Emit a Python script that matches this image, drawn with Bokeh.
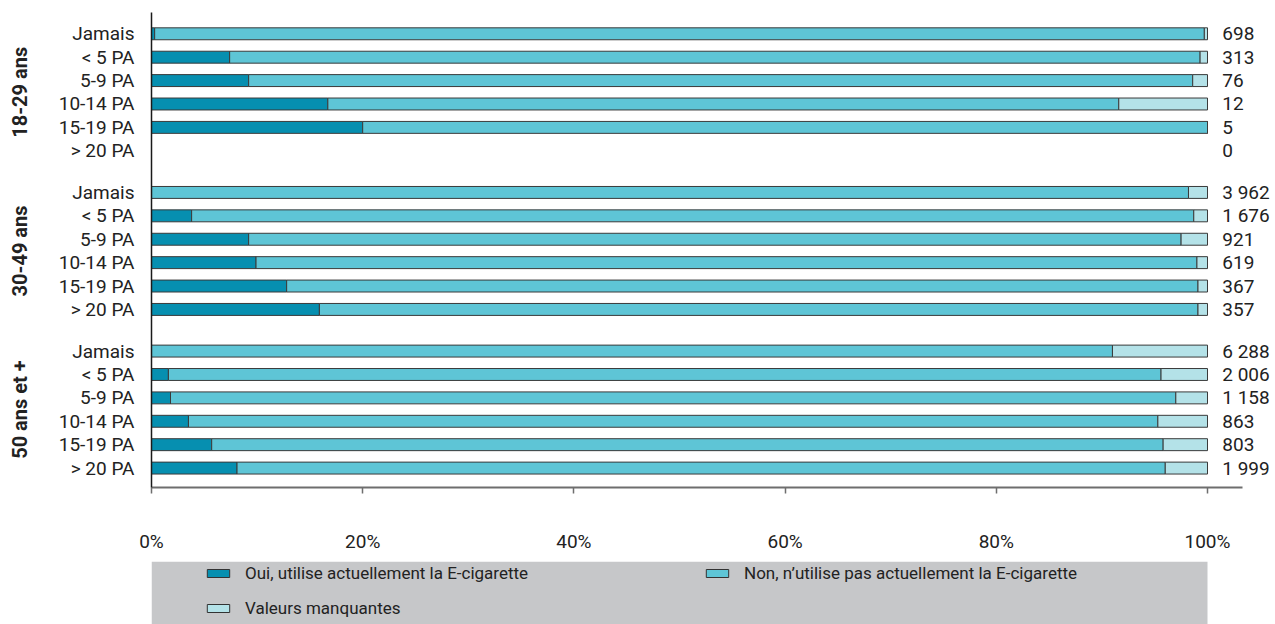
from bokeh.plotting import figure
from bokeh.models import (Range1d, FixedTicker, PrintfTickFormatter, LinearAxis,
                          ColumnDataSource, Legend, LegendItem, BoxAnnotation)
from bokeh.layouts import column
from bokeh.embed import file_html
from bokeh.resources import INLINE
from bokeh.core.properties import value

# ---------------- data ----------------
groups = ["18-29 ans", "30-49 ans", "50 ans et +"]
rows = ["Jamais", "< 5 PA", "5-9 PA", "10-14 PA", "15-19 PA", "> 20 PA"]

# % "Oui, utilise actuellement la E-cigarette"
oui_18_29 = [0.3, 7.4, 9.2, 16.7, 20.0, 0.0]
oui_30_49 = [0.0, 3.8, 9.2, 9.9, 12.8, 15.9]
oui_50p = [0.0, 1.6, 1.8, 3.5, 5.7, 8.1]
# % "Non, n'utilise pas actuellement la E-cigarette"
non_18_29 = [99.4, 91.9, 89.4, 74.9, 80.0, 0.0]
non_30_49 = [98.2, 94.9, 88.3, 89.1, 86.3, 83.2]
non_50p = [91.0, 94.0, 95.2, 91.8, 90.1, 87.9]
# % "Valeurs manquantes"
manq_18_29 = [0.3, 0.7, 1.4, 8.4, 0.0, 0.0]
manq_30_49 = [1.8, 1.3, 2.5, 1.0, 0.9, 0.9]
manq_50p = [9.0, 4.4, 3.0, 4.7, 4.2, 4.0]
# effectifs
n_18_29 = [698, 313, 76, 12, 5, 0]
n_30_49 = [3962, 1676, 921, 619, 367, 357]
n_50p = [6288, 2006, 1158, 863, 803, 1999]

series_labels = ["Oui, utilise actuellement la E-cigarette",
                 "Non, n\u2019utilise pas actuellement la E-cigarette",
                 "Valeurs manquantes"]
colors = ["#068fb0", "#5ec5d6", "#b4e2e8"]
x_ticks = [0, 20, 40, 60, 80, 100]

FONT = "Roboto"
TXT = "#222222"

oui = [oui_18_29, oui_30_49, oui_50p]
non = [non_18_29, non_30_49, non_50p]
manq = [manq_18_29, manq_30_49, manq_50p]
counts = [n_18_29, n_30_49, n_50p]

# layout of rows (1 row = 100 units, groups separated by a gap)
ROW = 100
GROUP = 678

ys, o, nn, m, lab = [], [], [], [], []
row_over, grp_over = {}, {}
for gi, g in enumerate(groups):
    grp_over[gi * GROUP + ROW * (len(rows) - 1) // 2] = g
    for ri, r in enumerate(rows):
        pos = gi * GROUP + ri * ROW
        ys.append(pos)
        row_over[pos] = r
        o.append(oui[gi][ri])
        nn.append(non[gi][ri])
        m.append(manq[gi][ri])
        lab.append(f"{counts[gi][ri]:,}".replace(",", " "))

src = ColumnDataSource(dict(y=ys, oui=o, non=nn, manq=m, label=lab))

W = 1275
LEFT = 151
xr = Range1d(0, (W - LEFT) / 10.56)
p = figure(width=W, height=561, y_range=Range1d(1939, -91), x_range=xr,
           output_backend="svg", toolbar_location=None,
           min_border_left=LEFT, min_border_right=0, min_border_top=12, min_border_bottom=74)
p.outline_line_color = None
p.xgrid.visible = False
p.ygrid.visible = False

p.hbar_stack(["oui", "non", "manq"], y="y", height=51, source=src,
             fill_color=colors, line_color="#3a3a3a", line_width=1)

p.text(x=101.4, y="y", text="label", source=src, text_font=value(FONT),
       text_font_size="19px", text_baseline="middle", text_align="left", text_color=TXT)

xa = p.xaxis[0]
xa.ticker = FixedTicker(ticks=x_ticks)
xa.formatter = PrintfTickFormatter(format="%d%%")
xa.bounds = (0, 103.3)
xa.axis_line_color = "#6e6e6e"
xa.axis_line_width = 2
xa.major_tick_line_color = "#6e6e6e"
xa.major_tick_line_width = 1.5
xa.major_tick_out = 6
xa.major_tick_in = 0
xa.minor_tick_out = 0
xa.minor_tick_in = 0
xa.major_label_standoff = 36
xa.major_label_text_font = FONT
xa.major_label_text_font_size = "19px"
xa.major_label_text_color = TXT

ya = p.yaxis[0]
ya.ticker = FixedTicker(ticks=ys)
ya.major_label_overrides = row_over
ya.axis_line_color = "#1a1a1a"
ya.axis_line_width = 1.5
ya.major_tick_out = 0
ya.major_tick_in = 0
ya.minor_tick_out = 0
ya.minor_tick_in = 0
ya.major_label_standoff = 17
ya.major_label_text_font = FONT
ya.major_label_text_font_size = "19px"
ya.major_label_text_color = TXT

ga = LinearAxis(ticker=FixedTicker(ticks=list(grp_over.keys())),
                major_label_overrides=grp_over,
                major_label_orientation="parallel",
                axis_line_color=None, major_tick_out=0, major_tick_in=0,
                minor_tick_out=0, minor_tick_in=0, major_label_standoff=23,
                major_label_text_font=FONT, major_label_text_font_style="bold",
                major_label_text_font_size="20px", major_label_text_color=TXT)
p.add_layout(ga, "left")

# ---------------- legend ----------------
p2 = figure(width=W, height=63, x_range=xr, y_range=Range1d(0, 1),
            output_backend="svg", toolbar_location=None,
            min_border_left=LEFT, min_border_right=0, min_border_top=0, min_border_bottom=0,
            x_axis_location=None, y_axis_location=None, outline_line_color=None)
p2.xgrid.visible = False
p2.ygrid.visible = False
p2.add_layout(BoxAnnotation(left=0, right=100, fill_color="#c6c7c9", fill_alpha=1,
                            line_color=None, level="underlay"))
rends = []
for c in colors:
    rends.append(p2.hbar(y=[-5], right=[0], height=0.5, fill_color=c, line_color="#333333"))
items = [LegendItem(label=l, renderers=[r]) for l, r in zip(series_labels, rends)]
legend = Legend(items=items, orientation="horizontal", ncols=2, location=(53, 6),
                glyph_width=28, glyph_height=10, label_standoff=13, label_width=443,
                label_height=20, spacing=15, padding=0, margin=0,
                background_fill_alpha=0, border_line_alpha=0,
                label_text_font=FONT, label_text_font_size="17px", label_text_color=TXT)
p2.add_layout(legend, "center")

layout = column(p, p2, spacing=0)
open("out.html", "w").write(file_html(layout, INLINE))
